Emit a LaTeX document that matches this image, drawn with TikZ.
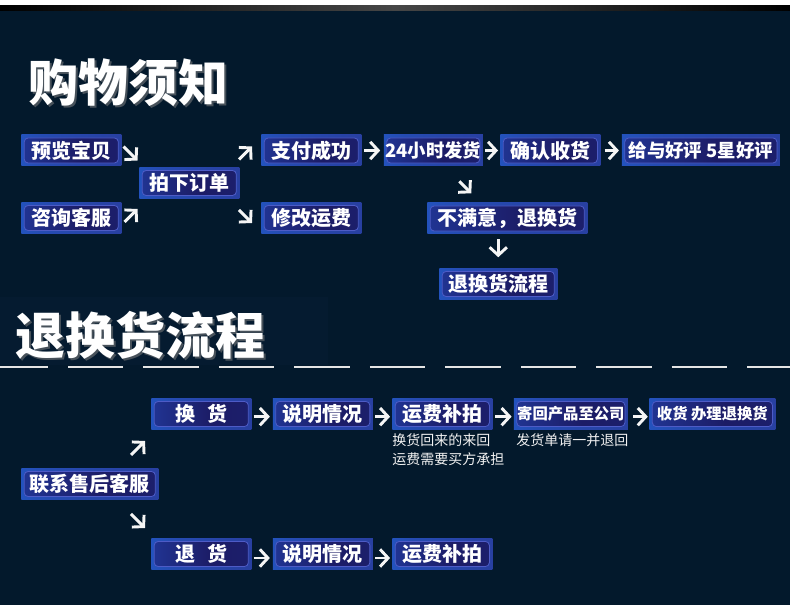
\documentclass[tikz,border=0pt]{standalone}
\usepackage{fontspec}
\newfontfamily\cjk{Noto Sans CJK SC}
\usetikzlibrary{positioning, arrows.meta, calc}

\definecolor{bgnavy}{HTML}{03192C}
\definecolor{panelnavy}{HTML}{051B30}
\definecolor{boxedge}{HTML}{1F63D6}
\definecolor{boxdeep}{HTML}{2A3896}
\definecolor{innerlight}{HTML}{2448B8}
\definecolor{innerdark}{HTML}{1C1C66}
\definecolor{innerline}{HTML}{4E5CC6}

\pgfdeclarehorizontalshading{boxinner}{100bp}{
    color(0bp)=(innerlight); color(25bp)=(innerlight!55!innerdark);
    color(55bp)=(innerdark); color(100bp)=(innerdark!85!innerlight)}
\pgfdeclarehorizontalshading{boxouter}{100bp}{
    color(0bp)=(boxedge); color(35bp)=(boxedge!45!boxdeep);
    color(100bp)=(boxdeep)}

\begin{document}
\begin{tikzpicture}[
    x=0.75pt, y=-0.75pt,
    node distance=15.75pt,
    stepbox/.style={
        rectangle,
        inner sep=0pt,
        minimum width=#1,
        minimum height=23.25pt,
        shading=boxouter,
        text=white,
        font=\cjk\bfseries\fontsize{15}{15}\selectfont,
        path picture={
            \draw[rounded corners=3pt, line width=0.6pt, draw=innerline,
                  shading=boxinner]
                ([shift={(2.2pt,2.2pt)}]path picture bounding box.south west)
                rectangle ([shift={(-2.2pt,-2.2pt)}]path picture bounding box.north east);
        }
    },
    stepbox/.default=75pt,
    midtext/.style={font=\cjk\bfseries\fontsize{13.8}{13.8}\selectfont},
    smalltext/.style={font=\cjk\bfseries\fontsize{11.5}{11.5}\selectfont},
    flow/.style={
        -{Straight Barb[length=6pt, width=13pt]},
        line width=2.2pt,
        white!92!gray
    },
    headline/.style={
        anchor=west,
        inner sep=0pt,
        text=white,
        font=\cjk\bfseries\fontsize{37.5}{37.5}\selectfont
    },
    headshadow/.style={headline, text=gray!55!bgnavy},
    notetext/.style={
        anchor=north west,
        inner sep=0pt,
        align=left,
        text=white!90!gray,
        font=\cjk\fontsize{10.5}{14.25}\selectfont
    },
    dashline/.style={
        line width=1.5pt,
        white!80!gray,
        dash pattern=on 41.6pt off 15pt,
        dash phase=5.6pt
    }
]

    % Background
    \useasboundingbox (0,0) rectangle (790,605);
    \fill[bgnavy] (0,0) rectangle (790,605);
    \fill[white] (0,0) rectangle (790,6);
    \shade[left color=black, right color=black, middle color=gray!55!black] (0,6) rectangle (790,11);
    \fill[panelnavy] (0,297) rectangle (328,365);

    % Headings
    \node[headshadow] (shopshadow) at (30,85) {购物须知};
    \node[headline] (shoptitle) at (28,83) {购物须知};
    \node[headshadow] (backshadow) at (17,337) {退换货流程};
    \node[headline] (backtitle) at (15,335) {退换货流程};
    \draw[dashline] (0,367) -- (790,367);

    % Shopping steps
    \node[stepbox, anchor=west] (preview) at (21,150.5) {预览宝贝};
    \node[stepbox, anchor=west] (consult) at (21,218) {咨询客服};
    \node[stepbox, anchor=west] (order) at (139,183) {拍下订单};
    \node[stepbox, anchor=west] (paid) at (261,150.5) {支付成功};
    \node[stepbox, anchor=west] (fee) at (261,218) {修改运费};
    \node[stepbox=74.25pt, midtext, right=16.5pt of paid] (ship) {24小时发货};
    \node[stepbox, right=12.75pt of ship] (confirm) {确认收货};
    \node[stepbox=118.5pt, midtext, right=15.75pt of confirm] (praise) {给与好评 5星好评};
    \node[stepbox=120pt, anchor=west] (unhappy) at (427,218.5) {不满意，退换货};
    \node[stepbox=88.5pt, anchor=west] (returnflow) at (439,284) {退换货流程};

    % Shopping arrows
    \draw[flow] ($(preview.east)+(2,-4)$) -- ($(preview.east)+(16,10)$);
    \draw[flow] ($(consult.east)+(3,4)$) -- ($(consult.east)+(16,-9)$);
    \draw[flow] ($(paid.west)+(-22,9)$) -- ($(paid.west)+(-9,-4)$);
    \draw[flow] ($(fee.west)+(-22,-8)$) -- ($(fee.west)+(-9,5)$);
    \draw[flow, shorten <=2pt, shorten >=2.5pt] (paid) -- (ship);
    \draw[flow, shorten <=1.5pt, shorten >=1.5pt] (ship) -- (confirm);
    \draw[flow, shorten <=3pt, shorten >=2pt] (confirm) -- (praise);
    \draw[flow] ($(ship.south)+(26,15)$) -- ($(ship.south)+(38,27)$);
    \draw[flow] ($(returnflow.north)+(0,-29)$) -- ($(returnflow.north)+(0,-11)$);

    % Return steps
    \node[stepbox=102.75pt, anchor=west] (service) at (21,484) {联系售后客服};
    \node[stepbox, anchor=west] (exch) at (151,414) {换\hspace{0.6em}货};
    \node[stepbox, right=of exch] (exchinfo) {说明情况};
    \node[stepbox, right=14.25pt of exchinfo] (exchpay) {运费补拍};
    \node[stepbox=85.5pt, smalltext, right=of exchpay] (sendback) {寄回产品至公司};
    \node[stepbox=94.5pt, smalltext, right=of sendback] (handle) {收货 办理退换货};
    \node[stepbox, anchor=west] (refund) at (151,554) {退\hspace{0.6em}货};
    \node[stepbox, right=of refund] (refundinfo) {说明情况};
    \node[stepbox, right=14.25pt of refundinfo] (refundpay) {运费补拍};

    % Notes
    \node[notetext] (paynote) at (392,433) {换货回来的来回\\运费需要买方承担};
    \node[notetext] (sendnote) at (516,433) {发货单请一并退回};

    % Return arrows
    \draw[flow] ($(exch.west)+(-20,41)$) -- ($(exch.west)+(-6,27)$);
    \draw[flow] ($(refund.west)+(-20,-40)$) -- ($(refund.west)+(-6,-26)$);
    \draw[flow, shorten <=1.5pt, shorten >=2pt] ([yshift=-2pt]exch.east) -- ([yshift=-2pt]exchinfo.west);
    \draw[flow, shorten <=1.5pt, shorten >=1.5pt] ([yshift=-2pt]exchinfo.east) -- ([yshift=-2pt]exchpay.west);
    \draw[flow, shorten <=2pt, shorten >=1.5pt] ([yshift=-2pt]exchpay.east) -- ([yshift=-2pt]sendback.west);
    \draw[flow, shorten <=3.5pt, shorten >=1pt] ([yshift=-2pt]sendback.east) -- ([yshift=-2pt]handle.west);
    \draw[flow, shorten <=1.5pt, shorten >=2pt] ([yshift=-3pt]refund.east) -- ([yshift=-3pt]refundinfo.west);
    \draw[flow, shorten <=1.5pt, shorten >=1.5pt] ([yshift=-3pt]refundinfo.east) -- ([yshift=-3pt]refundpay.west);

\end{tikzpicture}
\end{document}
